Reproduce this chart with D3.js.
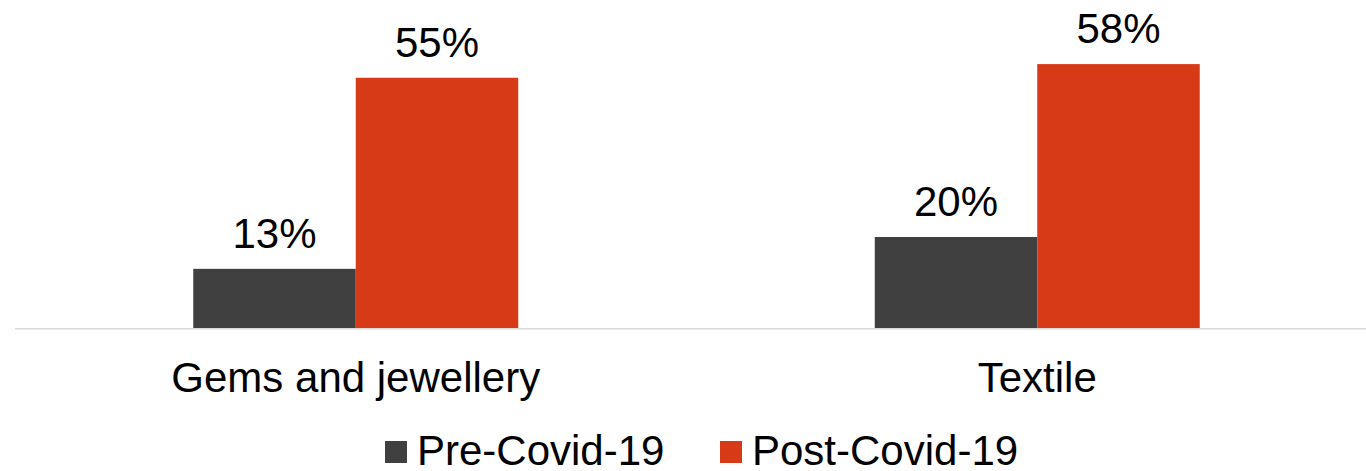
<!DOCTYPE html>
<html>
<head>
<meta charset="utf-8">
<script src="https://cdn.jsdelivr.net/npm/d3@7"></script>
<style>
  html, body { margin: 0; padding: 0; background: #fff; }
  svg { display: block; font-family: "Liberation Sans", Arial, sans-serif; }
</style>
</head>
<body>
<svg id="chart" width="1366" height="471"></svg>
<script>
// Share of respondents, by sector, before and after Covid-19
const categories = ["Gems and jewellery", "Textile"];
const seriesNames = ["Pre-Covid-19", "Post-Covid-19"];
const preCovid = [13, 20];
const postCovid = [55, 58];
const seriesColors = ["#404040", "#d73a17"];

const values = [preCovid, postCovid];
const rows = categories.map((c, i) => ({
  category: c,
  bars: seriesNames.map((s, j) => ({ series: s, value: values[j][i], color: seriesColors[j] }))
}));

const svg = d3.select("#chart");
const W = 1366;
const FONT = 42;

const x0 = d3.scaleBand().domain(categories).range([15, 1378]).padding(0);
const x1 = d3.scaleBand().domain(seriesNames).range([0, x0.bandwidth()])
  .paddingInner(0).paddingOuter(1.097);
const y = d3.scaleLinear().domain([0, 60]).range([328, 55]);

// bars
const groups = svg.selectAll("g.cat").data(rows).join("g")
  .attr("class", "cat")
  .attr("transform", d => `translate(${x0(d.category)},0)`);

groups.selectAll("rect").data(d => d.bars).join("rect")
  .attr("x", d => x1(d.series))
  .attr("y", d => y(d.value))
  .attr("width", x1.bandwidth())
  .attr("height", d => y(0) - y(d.value))
  .attr("fill", d => d.color);

// value labels
groups.selectAll("text.val").data(d => d.bars).join("text")
  .attr("class", "val")
  .attr("x", d => x1(d.series) + x1.bandwidth() / 2)
  .attr("y", d => y(d.value) - 21)
  .attr("text-anchor", "middle")
  .attr("font-size", FONT)
  .attr("fill", "#000")
  .text(d => d.value + "%");

// baseline
svg.append("line")
  .attr("x1", 15).attr("x2", W)
  .attr("y1", y(0) + 0.75).attr("y2", y(0) + 0.75)
  .attr("stroke", "#d9d9d9").attr("stroke-width", 1.5);

// category axis labels
const xAxis = d3.axisBottom(x0).tickSize(0).tickPadding(0);
const axisG = svg.append("g").attr("transform", `translate(0,${y(0)})`).call(xAxis);
axisG.select(".domain").remove();
axisG.selectAll("text")
  .attr("y", 64)
  .attr("dy", null)
  .attr("font-size", FONT)
  .attr("font-family", "Liberation Sans, Arial, sans-serif")
  .attr("fill", "#000");

// legend
const legendX = [385, 720];
const legend = svg.selectAll("g.leg").data(seriesNames).join("g")
  .attr("class", "leg")
  .attr("transform", (d, i) => `translate(${legendX[i]},441)`);
legend.append("rect")
  .attr("width", 22).attr("height", 22)
  .attr("fill", (d, i) => seriesColors[i]);
legend.append("text")
  .attr("x", 32).attr("y", 24)
  .attr("font-size", FONT)
  .attr("fill", "#000")
  .text(d => d);
</script>
</body>
</html>
